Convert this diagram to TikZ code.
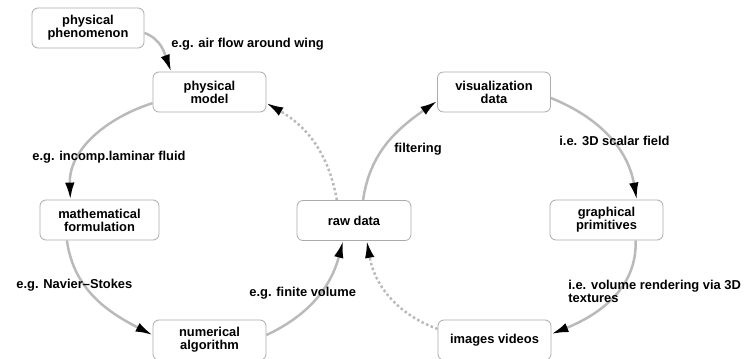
\documentclass[tikz,border=0pt]{standalone}
\usepackage{fontspec}
\setmainfont{Liberation Sans}
\usetikzlibrary{arrows.meta}

\begin{document}
\begin{tikzpicture}[x=1pt, y=-1pt, thick,
	main node/.style={rectangle,rounded corners=6pt,draw=black!33,line width=0.8pt,
		minimum width=113pt,minimum height=40pt,inner sep=0pt,align=center,
		font=\fontsize{12.9}{13}\selectfont\bfseries},
	flow/.style={draw=black!27,line width=2.5pt,-{Latex[length=17pt,width=9.5pt,color=black]}},
	back/.style={flow,dash pattern=on 2.5pt off 2.5pt},
	note/.style={anchor=west,align=left,inner sep=0pt,font=\fontsize{12.9}{13}\selectfont\bfseries}]
	
	\useasboundingbox (0,0) rectangle (748,359);
	
	\node[main node, minimum width=112pt] (1) at (88,28) {physical\\phenomenon};
	\node[main node] (2) at (209.5,92) {physical\\model};
	\node[main node, minimum width=119pt] (3) at (99.5,220) {mathematical\\formulation};
	\node[main node] (4) at (209.5,340) {numerical\\algorithm};
	\node[main node, minimum width=114pt] (5) at (354,220.5) {raw data};
	\node[main node] (6) at (494,92) {visualization\\data};
	\node[main node] (7) at (606.5,220) {graphical\\primitives};
	\node[main node] (8) at (494.5,340) {images videos};
	
	\path[every edge/.style={flow}]
	(1.-5) edge[out=-20,in=110] (2.152)
	(2.191) edge[out=198,in=92] (3.145)
	(3.212) edge[out=-82,in=153] (4.175)
	(4.5) edge[out=25,in=-105] (5.242)
	(5.66) edge[out=82,in=-145] (6.189)
	(6.-6) edge[out=-22,in=100] (7.34)
	(7.-35) edge[out=-88,in=22] (8.6);
	
	\path[every edge/.style={back}]
	(5.130) edge[out=100,in=-30] (2.-11)
	(8.169) edge[out=160,in=-80] (5.302);
	
	\node[note] (a) at (171,44) {e.g. air flow around wing};
	\node[note] (b) at (32,157) {e.g. incomp.laminar fluid};
	\node[note] (c) at (16,285) {e.g. Navier--Stokes};
	\node[note] (d) at (249,293) {e.g. finite volume};
	\node[note] (e) at (394,149) {filtering};
	\node[note] (f) at (559,141) {i.e. 3D scalar field};
	\node[note] (g) at (568,291) {i.e. volume rendering via 3D\\textures};
\end{tikzpicture}
\end{document}
